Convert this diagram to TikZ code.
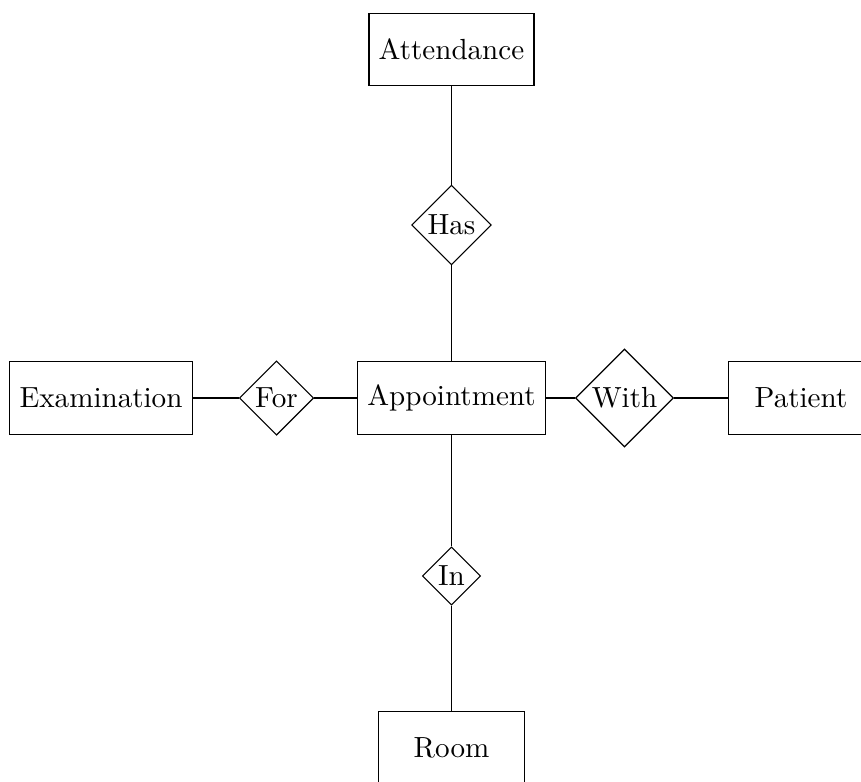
\documentclass[tikz,border=0pt]{standalone}
\usetikzlibrary{shapes.geometric}
\begin{document}
\begin{tikzpicture}[x=0.3436pt,y=-0.3436pt,
  entity/.style={draw,rectangle,minimum width=50pt,minimum height=25pt,inner sep=3.333pt},
  relation/.style={draw,diamond,aspect=1,inner sep=1pt}]
\useasboundingbox (0,0) rectangle (861,781);
% entities
\node[entity] (appt) at (451.5,398) {Appointment};
\node[entity] (att)  at (451.5,49.5) {Attendance};
\node[entity] (exam) at (101,398) {Examination};
\node[entity] (pat)  at (801,398) {Patient};
\node[entity] (room) at (451.5,748) {Room};
% relationships
\node[relation] (has)  at (451.5,225) {Has};
\node[relation] (for)  at (276.5,398) {For};
\node[relation] (with) at (624.5,398) {With};
\node[relation] (in)   at (451.5,576) {In};
% connectors
\draw (att) -- (has) -- (appt);
\draw (exam) -- (for) -- (appt);
\draw (appt) -- (with) -- (pat);
\draw (appt) -- (in) -- (room);
\end{tikzpicture}
\end{document}
